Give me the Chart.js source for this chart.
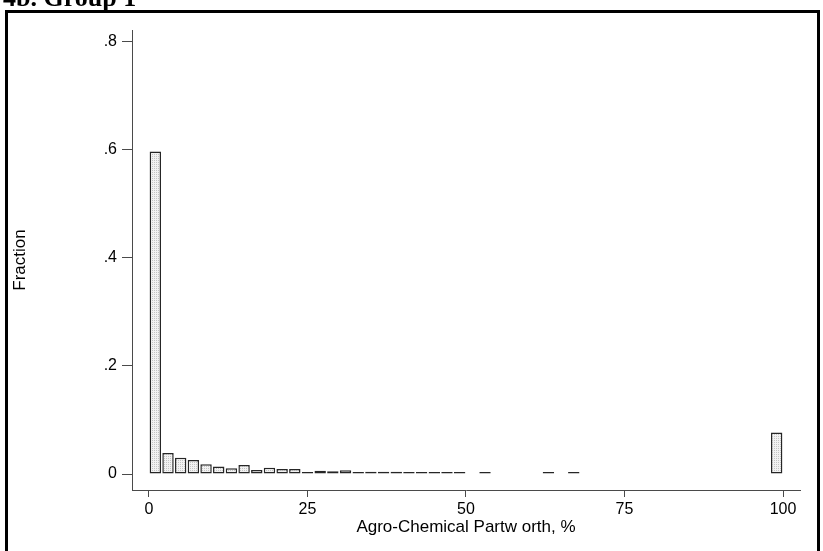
<!DOCTYPE html>
<html>
<head>
<meta charset="utf-8">
<script src="https://cdn.jsdelivr.net/npm/chart.js@4.4.1/dist/chart.umd.min.js"></script>
<style>
    html, body { margin: 0; padding: 0; background: #ffffff; overflow: hidden; }
    #frame {
        position: absolute;
        left: 5px; top: 10px;
        width: 809px; height: 600px;
        border: 3px solid #000000;
    }
    #chart { position: absolute; left: 0; top: 0; }
</style>
</head>
<body>
<div id="frame"></div>
<canvas id="chart" width="823" height="551"></canvas>
<script>
// Histogram bins (width 2), centre of each bin
const binCenters = [
    1, 3, 5, 7, 9, 11, 13, 15, 17, 19,
    21, 23, 25, 27, 29, 31, 33, 35, 37, 39,
    41, 43, 45, 47, 49, 51, 53, 55, 57, 59,
    61, 63, 65, 67, 69, 71, 73, 75, 77, 79,
    81, 83, 85, 87, 89, 91, 93, 95, 97, 99
];

// Fraction of observations per bin (null = empty bin)
const fractions = [
    0.597, 0.039, 0.030, 0.026, 0.018, 0.014, 0.0106, 0.0167, 0.0074, 0.0117,
    0.0093, 0.0093, 0.003, 0.006, 0.005, 0.007, 0.001, 0.004, 0.004, 0.004,
    0.002, 0.002, 0.003, 0.001, 0.002, null, 0.002, null, null, null,
    null, 0.002, null, 0.002, null, null, null, null, null, null,
    null, null, null, null, null, null, null, null, null, 0.077
];

const xTicks = [0, 25, 50, 75, 100];
const yTicks = [0, 0.2, 0.4, 0.6, 0.8];
const yTickLabels = ['0', '.2', '.4', '.6', '.8'];

const titleText = '4b. Group 1';
const xTitle = 'Agro-Chemical Partw orth, %';
const yTitle = 'Fraction';

// Stippled light-grey fill like the original graph
function makeStipple() {
    const c = document.createElement('canvas');
    c.width = 2;
    c.height = 2;
    const g = c.getContext('2d');
    g.fillStyle = '#f2f2f2';
    g.fillRect(0, 0, 2, 2);
    g.fillStyle = '#c4c4c4';
    g.fillRect(0, 0, 1, 1);
    return g.createPattern(c, 'repeat');
}

// Cut-off panel title above the frame
const panelTitle = {
    id: 'panelTitle',
    afterDraw(chart) {
        const ctx = chart.ctx;
        ctx.save();
        ctx.font = "bold 26px 'Liberation Serif', serif";
        ctx.fillStyle = '#000000';
        ctx.textBaseline = 'alphabetic';
        ctx.fillText(titleText, 3, 6);
        ctx.restore();
    }
};

const axisColor = '#4a4a4a';
const tickFont = { family: "'Liberation Sans', Arial, sans-serif", size: 16 };
const titleFont = { family: "'Liberation Sans', Arial, sans-serif", size: 17 };

const ctx = document.getElementById('chart').getContext('2d');
new Chart(ctx, {
    type: 'bar',
    data: {
        datasets: [{
            label: yTitle,
            data: binCenters.map((x, i) => ({ x: x, y: fractions[i] })),
            backgroundColor: makeStipple(),
            borderColor: '#262626',
            borderWidth: 1.5,
            borderSkipped: false,
            minBarLength: 2,
            barPercentage: 0.9,
            categoryPercentage: 1.0
        }]
    },
    options: {
        responsive: false,
        animation: false,
        layout: { padding: { left: 0, top: 30, right: 23, bottom: 0 } },
        plugins: {
            legend: { display: false },
            tooltip: { enabled: false }
        },
        scales: {
            x: {
                type: 'linear',
                min: -2.68,
                max: 102.68,
                offset: false,
                afterBuildTicks: (scale) => { scale.ticks = xTicks.map(v => ({ value: v })); },
                afterFit: (scale) => { scale.height = 61; },
                grid: {
                    display: true,
                    offset: false,
                    drawOnChartArea: false,
                    drawTicks: true,
                    tickLength: 7,
                    color: axisColor
                },
                border: { display: true, color: axisColor, width: 1 },
                ticks: {
                    color: '#000000',
                    font: tickFont,
                    padding: 3,
                    maxRotation: 0,
                    autoSkip: false
                },
                title: {
                    display: true,
                    text: xTitle,
                    color: '#000000',
                    font: titleFont,
                    padding: { top: 0, bottom: 13 }
                }
            },
            y: {
                type: 'linear',
                min: -0.0296,
                max: 0.822,
                afterBuildTicks: (scale) => { scale.ticks = yTicks.map(v => ({ value: v })); },
                afterFit: (scale) => { scale.width = 132; },
                grid: {
                    display: true,
                    drawOnChartArea: false,
                    drawTicks: true,
                    tickLength: 10,
                    color: axisColor
                },
                border: { display: true, color: axisColor, width: 1 },
                ticks: {
                    color: '#000000',
                    font: tickFont,
                    padding: 5,
                    autoSkip: false,
                    callback: (value) => yTickLabels[yTicks.indexOf(value)]
                },
                title: {
                    display: true,
                    text: yTitle,
                    color: '#000000',
                    font: titleFont,
                    padding: { top: 10, bottom: 0 }
                }
            }
        }
    },
    plugins: [panelTitle]
});
</script>
</body>
</html>
